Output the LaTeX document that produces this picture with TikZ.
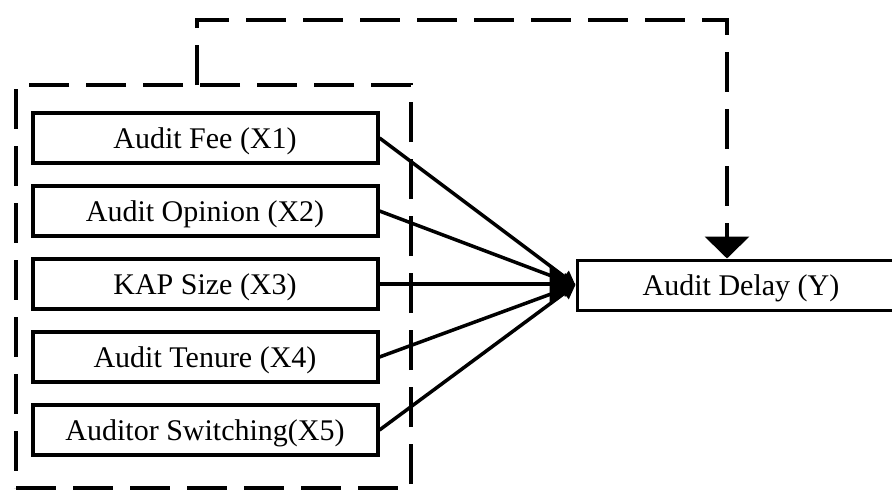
\documentclass[tikz,border=0pt]{standalone}
\usepackage{fontspec}
\setmainfont{Liberation Serif}
\usetikzlibrary{arrows.meta,positioning}

\begin{document}
\begin{tikzpicture}[x=1pt,y=-1pt,
  varbox/.style={draw,line width=4pt,minimum width=345pt,minimum height=50pt,inner sep=0pt,
    font=\fontsize{30}{30}\selectfont,text height=20pt,text depth=0pt},
  link/.style={line width=3.5pt,-{Triangle[length=14pt,width=14pt]}},
  mainlink/.style={line width=3.5pt,-{Triangle[length=26pt,width=40pt]}},
  dashline/.style={line width=4pt,dash pattern=on 40pt off 17pt}]
  \useasboundingbox (0,0) rectangle (892,490);
  \clip (0,0) rectangle (892,490);
  % independent variables
  \node[varbox] (fee) at (205,138) {Audit Fee (X1)};
  \node[varbox,below=19pt of fee] (opinion) {Audit Opinion (X2)};
  \node[varbox,below=19pt of opinion] (size) {KAP Size (X3)};
  \node[varbox,below=19pt of size] (tenure) {Audit Tenure (X4)};
  \node[varbox,below=19pt of tenure] (switching) {Auditor Switching(X5)};
  \node[dashline,draw,minimum width=395pt,minimum height=403pt] (group) at (213.5,286.5) {};
  % dependent variable
  \node[varbox,line width=3pt,minimum width=328pt] (delay) at (741,285) {Audit Delay (Y)};
  \foreach \n in {fee,opinion,tenure,switching}
    \draw[link] (\n.east) -- (delay.west);
  \draw[mainlink] (size.east) -- (delay.west |- size.east);
  % group effect
  \coordinate (tap) at (197,85);
  \coordinate (corner) at (727,20);
  \draw[dashline,-{Triangle[length=22pt,width=44pt]}] (tap) |- (corner) -- (corner |- delay.north);
\end{tikzpicture}
\end{document}
